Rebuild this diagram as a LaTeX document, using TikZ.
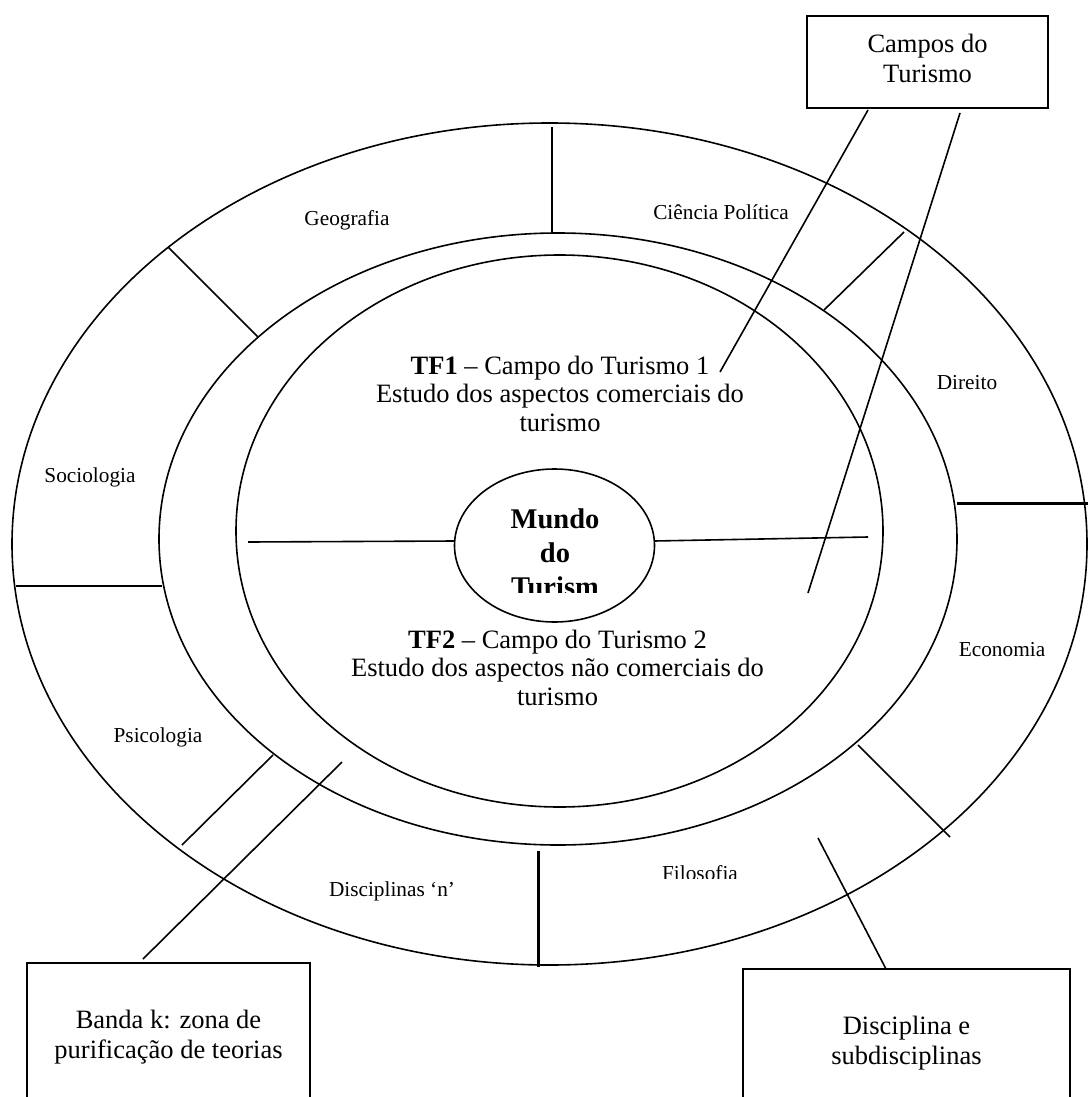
\documentclass[tikz,border=0pt]{standalone}
\usepackage{fontspec}
\setmainfont{Liberation Serif}
\usetikzlibrary{shapes.geometric}
\begin{document}
\begin{tikzpicture}[x=1pt,y=-1pt,
  ring/.style={line width=1.6pt},
  divider/.style={line width=1.6pt},
  thickdiv/.style={line width=3pt},
  conn/.style={line width=1.6pt},
  box/.style={draw,line width=2.2pt,align=center,inner sep=0pt,
    font=\fontsize{26.5pt}{30pt}\selectfont},
  disc/.style={inner sep=0pt,anchor=base,font=\fontsize{21.3pt}{24pt}\selectfont},
  field/.style={align=center,inner sep=0pt,font=\fontsize{26.5pt}{28.5pt}\selectfont}]
\useasboundingbox (0,0) rectangle (1087,1097);
\fill[white] (0,0) rectangle (1087,1097);

% rings
\draw[ring] (549.5,544) ellipse [x radius=537.5pt, y radius=421pt];
\draw[ring] (558,539) ellipse [x radius=399pt, y radius=306pt];
\draw[ring] (559.5,531) ellipse [x radius=323.5pt, y radius=276pt];
\node[draw, ellipse, line width=1.6pt, minimum width=200pt, minimum height=153pt, inner sep=0pt] (mundo) at (554.5,545.5) {};
\begin{scope}
  \clip (470,470) rectangle (640,592);
  \node[align=center, inner sep=0pt, font=\bfseries\fontsize{28.5pt}{34pt}\selectfont] (mundotext) at (555,552.3) {Mundo\\do\\Turism};
\end{scope}

% sector dividers
\draw[divider] (552,127) -- (552,233);
\draw[divider] (168,247) -- (258,337);
\draw[divider] (904,232) -- (824,310);
\draw[thickdiv] (957,503) -- (1090,503);
\draw[divider] (858,745) -- (950,837);
\draw[thickdiv] (538,851) -- (538,967);
\draw[divider] (273,755) -- (182,845);
\draw[line width=2.3pt] (16,586) -- (162,586);

% TF1 / TF2 division
\coordinate (hl) at (248,542);
\coordinate (hr) at (868,537);
\draw[divider] (hl) -- (455,541);
\draw[divider] (654,541) -- (hr);

% discipline labels
\node[disc] (geo) at (347,225) {Geografia};
\node[disc] (cp) at (721,219) {Ciência Política};
\node[disc] (dir) at (967,389) {Direito};
\node[disc] (eco) at (1002,656) {Economia};
\node[disc] (soc) at (90,482) {Sociologia};
\node[disc] (psi) at (158,742) {Psicologia};
\node[disc] (dn) at (392,896) {Disciplinas ‘n’};
\begin{scope}
  \clip (640,840) rectangle (760,878);
  \node[disc] (filo) at (700,880) {Filosofia};
\end{scope}

% fields
\node[field] (tf1) at (560,393.5) {\textbf{TF1} – Campo do Turismo 1\\Estudo dos aspectos comerciais do\\turismo};
\node[field] (tf2) at (557.5,667.5) {\textbf{TF2} – Campo do Turismo 2\\Estudo dos aspectos não comerciais do\\turismo};

% boxes
\node[box, minimum width=241pt, minimum height=92pt, text depth=8pt] (campos) at (927.5,62) {Campos do\\Turismo};
\node[box, minimum width=283pt, minimum height=148pt] (banda) at (168.5,1037) {Banda k: zona de\\purificação de teorias};
\node[box, minimum width=327pt, minimum height=148pt] (discbox) at (906.5,1043) {Disciplina e\\subdisciplinas};

% connectors
\coordinate (c1a) at (868,110);
\coordinate (c1b) at (720,372);
\coordinate (c2a) at (960,113);
\coordinate (c2b) at (808,593);
\coordinate (b1) at (143,959);
\coordinate (b2) at (342,762);
\coordinate (d1) at (886,969);
\coordinate (d2) at (818,838);
\draw[conn] (c1a) -- (c1b);
\draw[conn] (c2a) -- (c2b);
\draw[conn] (b1) -- (b2);
\draw[conn] (d1) -- (d2);
\end{tikzpicture}
\end{document}
